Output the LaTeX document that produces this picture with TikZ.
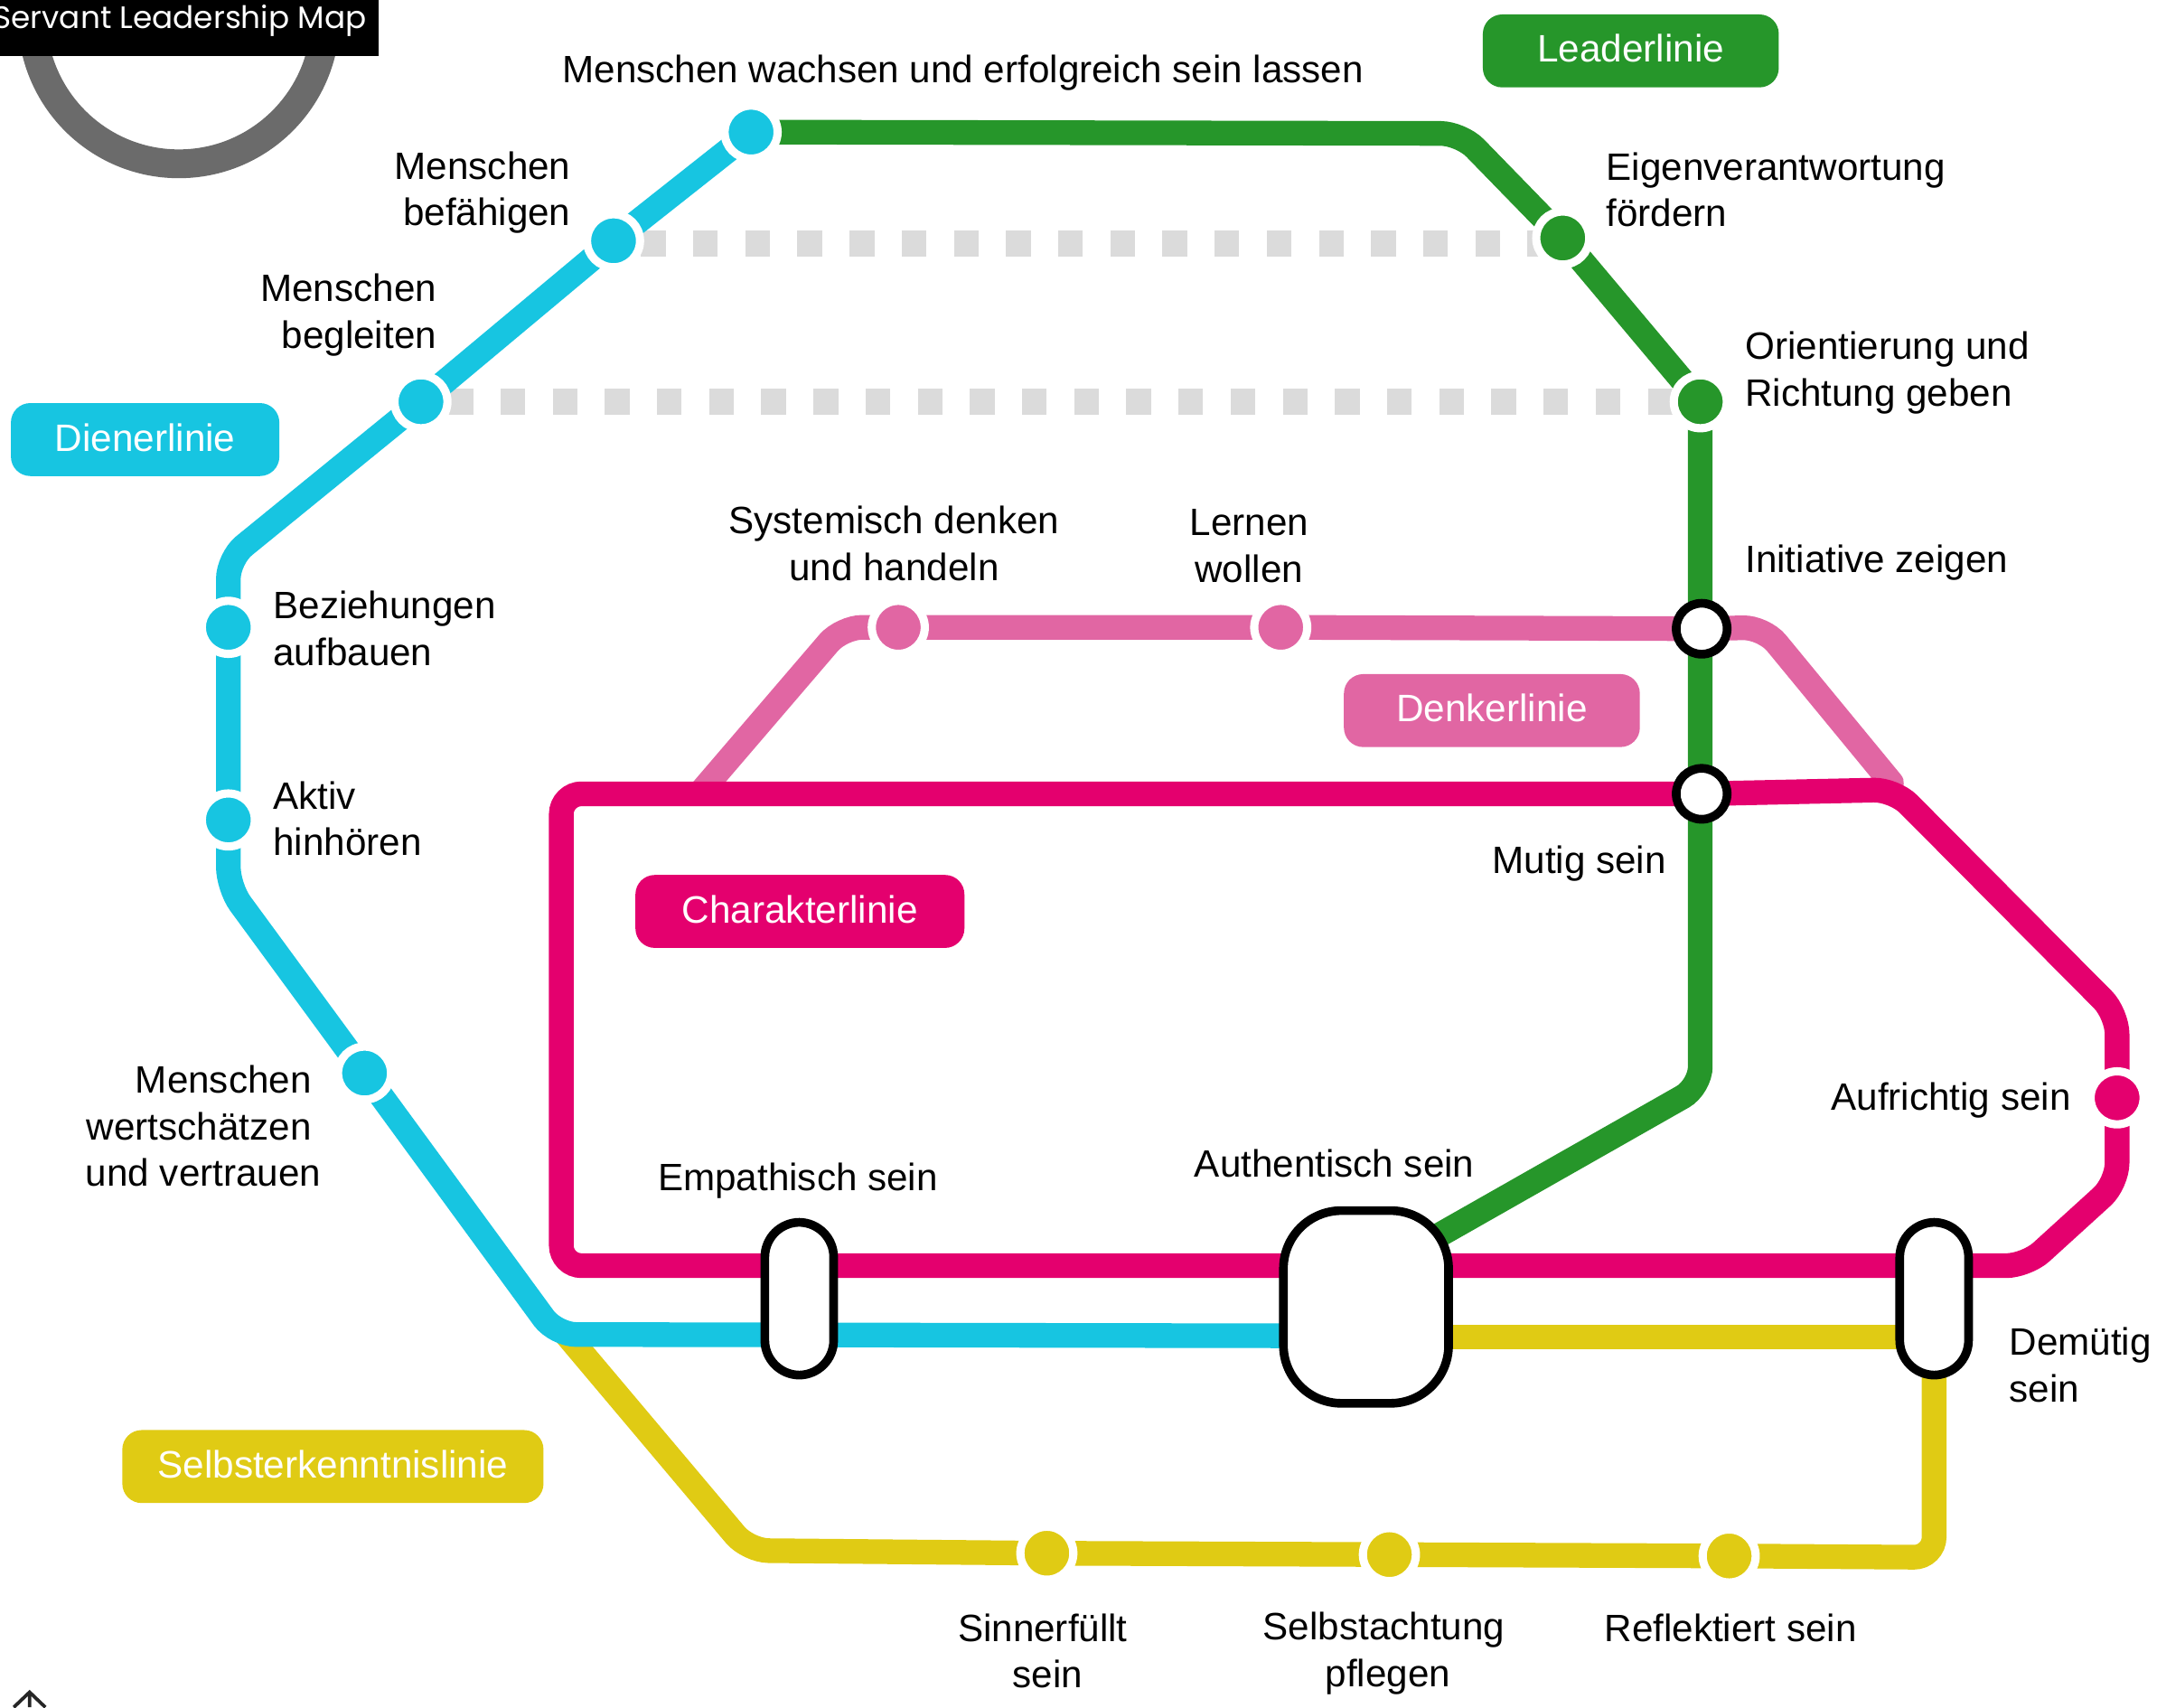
\documentclass[tikz,border=0pt]{standalone}
\usepackage{fontspec}
\setmainfont{Liberation Sans}
\newfontfamily\titlefont{Poppins}
\usetikzlibrary{shapes,backgrounds}
\definecolor{dienerblue}{RGB}{23,197,225}
\definecolor{leadergreen}{RGB}{38,150,42}
\definecolor{denkerpink}{RGB}{225,102,163}
\definecolor{charaktermagenta}{RGB}{228,0,110}
\definecolor{selbstyellow}{RGB}{224,203,20}
\definecolor{roundelgrey}{RGB}{107,107,107}
\definecolor{dotgrey}{RGB}{219,219,219}

\begin{document}
\begin{tikzpicture}[
    x=0.01cm,y=-0.01cm,
    metro/.style={line width=5.1pt,rounded corners=4.2pt},
    transfer/.style={line width=5.3pt,dotgrey,dash pattern=on 5.1pt off 5.68pt,dash phase=5.1pt},
    station/.style={circle,draw=white,line width=1.7pt,minimum size=0.385cm,inner sep=0pt},
    hub/.style={circle,draw=black,line width=1.8pt,fill=white,minimum size=0.37cm,inner sep=0pt},
    longhub/.style={rectangle,rounded corners=7.2pt,draw=black,line width=1.8pt,fill=white,minimum width=0.5cm,minimum height=1.11cm,inner sep=0pt},
    linelabel/.style={rectangle,rounded corners=4pt,minimum height=0.53cm,inner sep=0pt,text=white,text depth=1pt,font=\fontsize{7.9}{9.6}\selectfont},
    stoptext/.style={inner sep=0pt,font=\fontsize{7.88}{9.64}\selectfont}
]

% Frame of the page
\useasboundingbox (0,0) rectangle (1568,1241);

% Roundel and title
\node[circle,draw=roundelgrey,line width=5.95pt,minimum size=2.13cm,inner sep=0pt] (roundel) at (130,12.5) {};
\node[rectangle,fill=black,minimum width=2.85cm,minimum height=0.51cm,inner sep=0pt] (titlebox) at (132.5,15.5) {};
\node[anchor=base east,inner sep=0pt,text=white,font=\titlefont\fontsize{6.4}{8}\selectfont] (title) at (267,21) {Servant Leadership Map};

% Corner fragment
\coordinate (markfoot) at (21.5,1241);
\coordinate (markleft) at (10,1241);
\coordinate (markright) at (33,1241);
\node[inner sep=0pt,minimum size=0pt] (marktip) at (21.5,1230) {};
\draw[line width=0.7pt,black!85] (markleft) -- (marktip.center) -- (markright) (marktip.center) -- (markfoot);

% Stations
\node[station,fill=dienerblue] (b1) at (546,96) {};
\node[station,fill=dienerblue] (b2) at (446,175) {};
\node[station,fill=dienerblue] (b3) at (306,292) {};
\node[station,fill=dienerblue] (b4) at (166,456) {};
\node[station,fill=dienerblue] (b5) at (166,596) {};
\node[station,fill=dienerblue] (b6) at (265,780) {};
\node[station,fill=leadergreen] (g1) at (1136,173) {};
\node[station,fill=leadergreen] (g2) at (1236,292) {};
\node[station,fill=denkerpink] (p1) at (653,456) {};
\node[station,fill=denkerpink] (p2) at (931,456) {};
\node[station,fill=charaktermagenta] (m1) at (1539,798) {};
\node[station,fill=selbstyellow] (y1) at (761,1129) {};
\node[station,fill=selbstyellow] (y2) at (1010,1130) {};
\node[station,fill=selbstyellow] (y3) at (1257,1131) {};

% Interchanges
\node[hub] (initiative) at (1237,457) {};
\node[hub] (mutig) at (1237,577) {};
\node[longhub] (empathisch) at (581,944) {};
\node[longhub] (demuetig) at (1406,944) {};
\node[rectangle,rounded corners=12pt,draw=black,line width=1.8pt,fill=white,minimum width=1.2cm,minimum height=1.4cm,inner sep=0pt] (authentisch) at (993,950) {};

% Bends
\coordinate (dotstart) at (446,177);
\coordinate (dotend) at (1136,177);
\coordinate (gbend1) at (1062,97);
\coordinate (gbend2) at (1236,790);
\coordinate (gend) at (1030,907);
\coordinate (bbend1) at (166,406);
\coordinate (bbend2) at (166,645);
\coordinate (bbend3) at (404,970);
\coordinate (bend) at (960,971);
\coordinate (ystart) at (410,968);
\coordinate (ybend1) at (544,1127);
\coordinate (ybend2) at (1406,1132);
\coordinate (ybar1) at (1000,972);
\coordinate (ybar2) at (1400,972);
\coordinate (pstart) at (510,575);
\coordinate (pbend1) at (612,456);
\coordinate (pbend2) at (1282,456);
\coordinate (pend) at (1375,569);
\coordinate (mbend1) at (1377,574);
\coordinate (mbend2) at (1539,737);
\coordinate (mbend3) at (1539,860);
\coordinate (mbend4) at (1473,920);
\coordinate (mbend5) at (408,920);
\coordinate (mbend6) at (408,577);

% Lines
\begin{scope}[on background layer]
\draw[transfer] (dotstart) -- (dotend);
\draw[transfer] (b3.center) -- (g2.center);
\draw[metro,selbstyellow] (ystart) -- (ybend1) -- (y1.center) -- (y2.center) -- (y3.center) -- (ybend2) -- (demuetig.center);
\draw[metro,selbstyellow] (ybar1) -- (ybar2);
\draw[metro,denkerpink,line cap=round] (pstart) -- (pbend1) -- (p1.center) -- (p2.center) -- (initiative.center) -- (pbend2) -- (pend);
\draw[metro,leadergreen] (b1.center) -- (gbend1) -- (g1.center) -- (g2.center) -- (gbend2) -- (gend);
\draw[metro,dienerblue] (b1.center) -- (b2.center) -- (b3.center) -- (bbend1) -- (b4.center) -- (b5.center) -- (bbend2) -- (b6.center) -- (bbend3) -- (bend);
\draw[metro,charaktermagenta] (mutig.center) -- (mbend1) -- (mbend2) -- (m1.center) -- (mbend3) -- (mbend4) -- (mbend5) -- (mbend6) -- (mutig.center);
\end{scope}

% Line names
\node[linelabel,fill=leadergreen,minimum width=2.15cm] (leaderlinie) at (1185.5,37) {Leaderlinie};
\node[linelabel,fill=dienerblue,minimum width=1.95cm] (dienerlinie) at (105.5,319.5) {Dienerlinie};
\node[linelabel,fill=denkerpink,minimum width=2.15cm] (denkerlinie) at (1084.5,516.5) {Denkerlinie};
\node[linelabel,fill=charaktermagenta,minimum width=2.39cm] (charakterlinie) at (581.5,662.5) {Charakterlinie};
\node[linelabel,fill=selbstyellow,minimum width=3.06cm] (selbstlinie) at (242,1066) {Selbsterkenntnislinie};

% Stop names
\node[stoptext] (t1) at (700,53) {Menschen wachsen und erfolgreich sein lassen};
\node[stoptext,align=right,anchor=east] (t2) at (415.5,140) {Menschen\\bef\"ahigen};
\node[stoptext,align=right,anchor=east] (t3) at (318,229) {Menschen\\begleiten};
\node[stoptext,align=left,anchor=west] (t4) at (198,457) {Beziehungen\\aufbauen};
\node[stoptext,align=left,anchor=west] (t5) at (198,595) {Aktiv\\hinh\"oren};
\node[stoptext,align=right,anchor=east] (t6) at (227,818.5) {Menschen\\wertsch\"atzen\\und vertrauen\kern-2pt};
\node[stoptext] (t7) at (580,858) {Empathisch sein};
\node[stoptext] (t8) at (970,846) {Authentisch sein};
\node[stoptext,align=center] (t9) at (650,395) {Systemisch denken\\und handeln};
\node[stoptext,align=center] (t10) at (908,397) {Lernen\\wollen};
\node[stoptext,align=left,anchor=west] (t11) at (1167,138) {Eigenverantwortung\\f\"ordern};
\node[stoptext,align=left,anchor=west] (t12) at (1268,271) {Orientierung und\\Richtung geben};
\node[stoptext,anchor=west] (t13) at (1268,409) {Initiative zeigen};
\node[stoptext] (t14) at (1148,628) {Mutig sein};
\node[stoptext,anchor=east] (t15) at (1506,800) {Aufrichtig sein};
\node[stoptext,align=left,anchor=west] (t16) at (1460,992) {Dem\"utig\\sein};
\node[stoptext,align=center] (t17) at (758,1200) {Sinnerf\"ullt\\\hspace*{2pt}sein};
\node[stoptext,align=center] (t18) at (1006,1202) {Selbstachtung\\\hspace*{1.7pt}pflegen};
\node[stoptext] (t19) at (1258,1183) {Reflektiert sein};

\end{tikzpicture}
\end{document}
